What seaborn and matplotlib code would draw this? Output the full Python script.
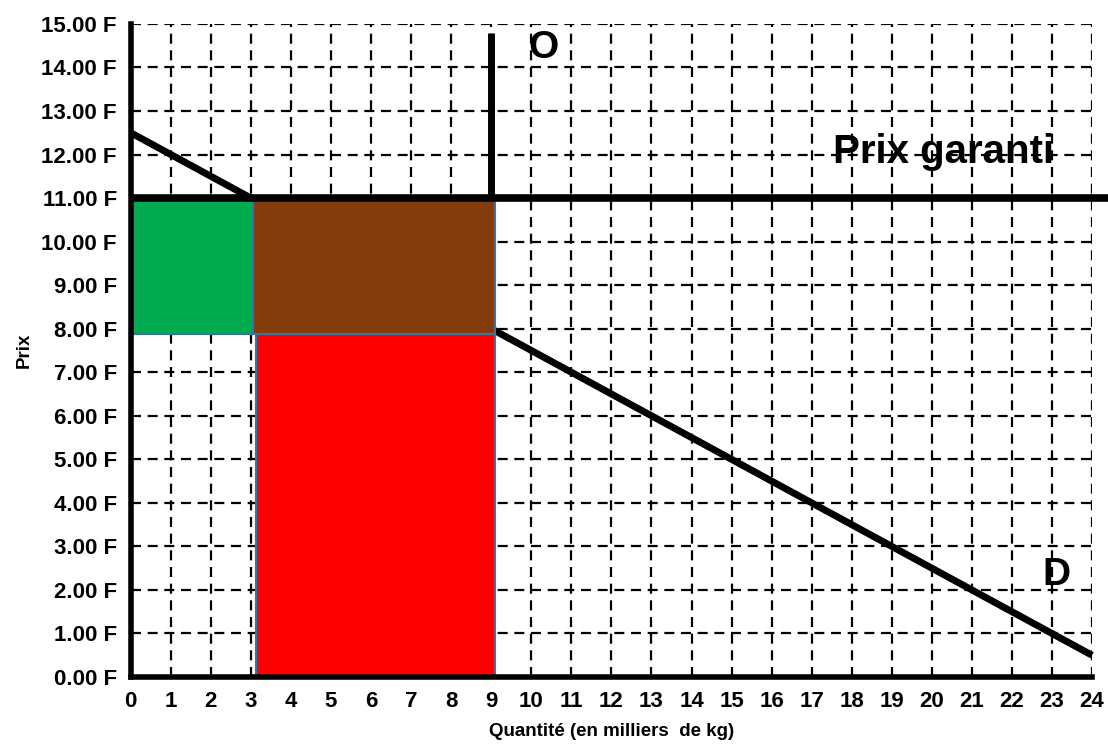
import matplotlib
matplotlib.use("Agg")
import matplotlib.pyplot as plt
import seaborn as sns
import pandas as pd
import numpy as np

# Data
demand_q = [0, 24]
demand_p = [12.5, 0.5]
supply_q = [9, 9]
supply_p = [11, 14.8]
guaranteed_price = 11
guaranteed_q = [0, 24.4]
# rectangles
rect_left = [0, 3.05, 3.12]
rect_width = [3.05, 6.05, 5.98]
rect_bottom = [7.88, 7.88, 0]
rect_height = [3.07, 3.07, 7.88]
rect_colors = ["#00AA4F", "#843C0C", "#FF0000"]
x_ticks = list(range(0, 25))
y_ticks = list(range(0, 16))
y_labels = [f"{v:.2f} F" for v in y_ticks]

sns.set_style("white")
plt.rcParams['font.family'] = ['Liberation Sans', 'DejaVu Sans']
plt.rcParams['text.color'] = 'black'
plt.rcParams['axes.labelcolor'] = 'black'
plt.rcParams['xtick.color'] = 'black'
plt.rcParams['ytick.color'] = 'black'

fig = plt.figure(figsize=(11.08, 7.49), dpi=100)
ax = fig.add_axes([0.118, 0.0961, 0.8676, 0.872])

ax.set_xlim(0, 24)
ax.set_ylim(0, 15)

# grid
ax.set_xticks(x_ticks)
ax.set_yticks(y_ticks)
ax.set_yticklabels(y_labels)
ax.grid(True, color="black", linestyle=(0, (4.5, 3.0)), linewidth=1.6)
ax.set_axisbelow(True)

# demand
df_d = pd.DataFrame({"q": demand_q, "p": demand_p})
sns.lineplot(data=df_d, x="q", y="p", ax=ax, color="black", linewidth=5, zorder=3,
             sort=False, estimator=None)

# rectangles
ax.bar(rect_left, rect_height, width=rect_width, bottom=rect_bottom, align="edge",
       color=rect_colors, edgecolor="#41719C", linewidth=1.5, zorder=4)

# supply
df_s = pd.DataFrame({"q": supply_q, "p": supply_p})
sns.lineplot(data=df_s, x="q", y="p", ax=ax, color="black", linewidth=5, zorder=5,
             sort=False, estimator=None)

# guaranteed price
df_g = pd.DataFrame({"q": guaranteed_q, "p": [guaranteed_price] * 2})
sns.lineplot(data=df_g, x="q", y="p", ax=ax, color="black", linewidth=5.5, zorder=5,
             sort=False, estimator=None)
for l in ax.get_lines():
    l.set_clip_on(False)
    l.set_solid_capstyle("butt")

ax.text(10.3, 14.45, "O", fontsize=28, fontweight="bold", ha="center", va="center", zorder=6)
ax.text(20.3, 12.05, "Prix garanti", fontsize=29, fontweight="bold", ha="center", va="center", zorder=6)
ax.text(23.1, 2.35, "D", fontsize=28, fontweight="bold", ha="center", va="center", zorder=6)

for s in ["top", "right"]:
    ax.spines[s].set_visible(False)
for s in ["left", "bottom"]:
    ax.spines[s].set_color("black")
    ax.spines[s].set_linewidth(4)
    ax.spines[s].set_zorder(6)

ax.tick_params(axis="both", which="major", length=4, width=4, color="black",
               labelsize=16, pad=6, direction="out", labelcolor="black")
ax.tick_params(axis="x", pad=6)
for lab in ax.get_xticklabels() + ax.get_yticklabels():
    lab.set_fontweight("bold")

ax.set_xlabel("Quantité (en milliers  de kg)", fontsize=13.5, fontweight="bold", labelpad=8)
ax.set_ylabel("Prix", fontsize=13.5, fontweight="bold", labelpad=6)

fig.savefig("out.png", dpi=100)
